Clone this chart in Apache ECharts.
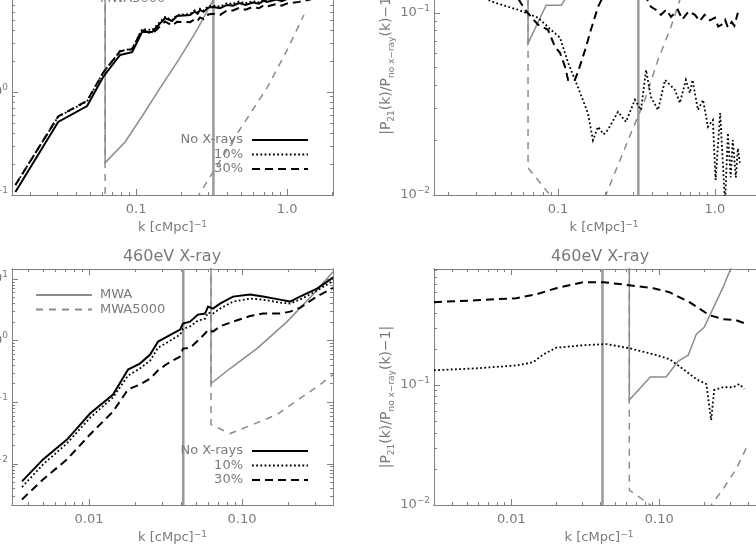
<!DOCTYPE html>
<html>
<head>
<meta charset="utf-8">
<script src="https://cdn.jsdelivr.net/npm/echarts@6/dist/echarts.min.js"></script>
<style>
  html, body { margin: 0; padding: 0; background: #fff; }
  #chart { width: 756px; height: 545px; }
</style>
</head>
<body>
<div id="chart"></div>
<script>
// ---------------- DATA ----------------
// Top-left: 21cm power spectra
const tlK    = [0.0159, 0.0305, 0.0474, 0.0605, 0.0784, 0.0941, 0.1096, 0.1276, 0.1556, 0.173, 0.1868, 0.2275, 0.245, 0.255, 0.265, 0.28, 0.30, 0.323, 0.36, 0.40, 0.438, 0.48, 0.53, 0.593, 0.65, 0.70, 0.734, 0.85, 0.92, 1.0, 1.2, 1.44];
const tlNoX  = [0.107, 0.512, 0.731, 1.40, 2.29, 2.44, 3.83, 3.83, 5.22, 4.89, 5.47, 5.60, 6.05, 5.75, 6.26, 6.0, 6.6, 6.69, 6.5, 7.0, 6.9, 7.3, 7.0, 7.4, 7.2, 7.7, 7.5, 7.9, 7.6, 8.0, 8.3, 8.8];
const tl10   = [0.125, 0.576, 0.811, 1.54, 2.50, 2.63, 4.07, 4.0, 5.37, 5.0, 5.6, 5.73, 6.22, 5.91, 6.44, 6.17, 6.78, 6.88, 6.76, 7.28, 7.18, 7.59, 7.28, 7.62, 7.42, 7.93, 7.73, 8.14, 7.83, 8.12, 8.42, 8.93];
const tl30   = [0.125, 0.579, 0.822, 1.54, 2.49, 2.60, 4.02, 3.67, 4.84, 4.41, 4.8, 4.76, 5.1, 4.9, 5.3, 5.1, 5.65, 5.75, 5.6, 6.2, 6.2, 6.55, 6.3, 6.7, 6.5, 6.95, 6.75, 7.15, 6.9, 7.25, 7.5, 7.95];
const tlMwaK  = [0.0624, 0.0624, 0.0846, 0.111, 0.144, 0.195, 0.253, 0.323, 0.46];
const tlMwa   = [1e4, 0.205, 0.327, 0.598, 1.09, 2.14, 4.0, 7.8, 21];
const tlMwa5K = [0.0624, 0.0624, 0.083, 0.12, 0.26, 0.438, 0.734, 1.0, 1.29];
const tlMwa5  = [1e4, 0.044, 0.031, 0.044, 0.1, 0.342, 1.09, 2.56, 5.6];

// Top-right: fractional difference
const trK10 = [0.0159, 0.0305, 0.0397, 0.0556, 0.0746, 0.0902, 0.103, 0.116, 0.134, 0.155, 0.167, 0.18, 0.195, 0.208, 0.241, 0.271, 0.309, 0.338, 0.364, 0.391, 0.434, 0.481, 0.556, 0.598, 0.653, 0.693, 0.72, 0.78, 0.84, 0.902, 0.97, 1.01, 1.08, 1.16, 1.21, 1.26, 1.30, 1.36, 1.40, 1.44];
const tr10  = [0.17, 0.125, 0.1135, 0.104, 0.094, 0.0807, 0.073, 0.0531, 0.039, 0.0282, 0.020, 0.0237, 0.0215, 0.0228, 0.0286, 0.0252, 0.0333, 0.0293, 0.0486, 0.0345, 0.0293, 0.0428, 0.0378, 0.032, 0.0428, 0.0363, 0.0428, 0.0293, 0.0333, 0.0237, 0.0258, 0.0121, 0.0282, 0.009, 0.0219, 0.0125, 0.020, 0.0125, 0.018, 0.015];
const trK30 = [0.0159, 0.0305, 0.0474, 0.0556, 0.0616, 0.0746, 0.0863, 0.0957, 0.103, 0.111, 0.116, 0.128, 0.134, 0.149, 0.162, 0.18, 0.2, 0.25, 0.3, 0.35, 0.391, 0.42, 0.453, 0.49, 0.525, 0.58, 0.62, 0.68, 0.746, 0.8, 0.86, 0.93, 1.0, 1.05, 1.1, 1.16, 1.21, 1.28, 1.33, 1.40];
const tr30  = [0.17, 0.135, 0.128, 0.12, 0.104, 0.086, 0.0807, 0.065, 0.0603, 0.0504, 0.0428, 0.0428, 0.0474, 0.0627, 0.0807, 0.108, 0.13, 0.15, 0.15, 0.13, 0.108, 0.104, 0.0975, 0.104, 0.095, 0.104, 0.092, 0.102, 0.0975, 0.09, 0.0975, 0.091, 0.094, 0.084, 0.086, 0.0917, 0.083, 0.089, 0.085, 0.1];
const trMwaK  = [0.0644, 0.0644, 0.084, 0.105, 0.115, 0.14, 0.2];
const trMwa   = [1e4, 0.068, 0.11, 0.11, 0.125, 0.2, 0.45];
const trMwa5K = [0.0644, 0.0644, 0.089, 0.13, 0.202, 0.218, 0.292, 0.358, 0.434, 0.525, 0.598, 0.75, 1.0, 1.29];
const trMwa5  = [1e4, 0.0141, 0.01, 0.006, 0.01, 0.0118, 0.0219, 0.0333, 0.0552, 0.0838, 0.118, 0.2, 0.4, 0.8];

// Bottom-left: 460eV X-ray power spectra
const blK   = [0.00365, 0.00501, 0.00718, 0.01016, 0.01436, 0.018, 0.0215, 0.0251, 0.0283, 0.0324, 0.0394, 0.0411, 0.0457, 0.0515, 0.0573, 0.060, 0.0646, 0.0718, 0.0873, 0.1127, 0.137, 0.177, 0.206, 0.239, 0.309, 0.376, 0.393];
const blNoX = [0.00519, 0.0118, 0.0248, 0.0656, 0.133, 0.339, 0.424, 0.593, 0.964, 1.16, 1.51, 1.89, 2.03, 2.64, 2.74, 3.56, 3.30, 3.98, 5.17, 5.57, 5.17, 4.62, 4.29, 5.17, 6.96, 9.74, 10.6];
const bl10  = [0.0042, 0.0098, 0.0215, 0.056, 0.12, 0.271, 0.352, 0.474, 0.77, 0.93, 1.25, 1.55, 1.69, 2.11, 2.27, 2.84, 2.74, 3.3, 4.29, 4.8, 4.62, 4.13, 3.98, 4.62, 6.46, 8.7, 9.6];
const bl30  = [0.00265, 0.00559, 0.0118, 0.030, 0.0706, 0.161, 0.194, 0.242, 0.33, 0.42, 0.551, 0.741, 0.76, 1.0, 1.3, 1.51, 1.40, 1.7, 2.03, 2.5, 2.74, 2.74, 2.95, 3.4, 5.2, 6.7, 7.2];
const blMwaK  = [0.0627, 0.0627, 0.0835, 0.125, 0.197, 0.291, 0.393];
const blMwa   = [1e4, 0.201, 0.352, 0.742, 2.03, 5.57, 13.1];
const blMwa5K = [0.0627, 0.0627, 0.0835, 0.118, 0.169, 0.239, 0.324, 0.393];
const blMwa5  = [1e4, 0.0435, 0.031, 0.0436, 0.063, 0.115, 0.194, 0.281];

// Bottom-right: fractional difference, 460eV X-ray
const brK10 = [0.0030, 0.0058, 0.0108, 0.014, 0.0164, 0.0201, 0.0306, 0.0438, 0.0627, 0.091, 0.117, 0.145, 0.178, 0.208, 0.224, 0.235, 0.27, 0.316, 0.347, 0.375];
const br10  = [0.133, 0.138, 0.146, 0.155, 0.18, 0.205, 0.215, 0.22, 0.203, 0.181, 0.165, 0.136, 0.112, 0.102, 0.051, 0.091, 0.096, 0.096, 0.102, 0.093];
const brK30 = [0.0030, 0.0058, 0.0108, 0.0148, 0.0201, 0.0306, 0.0418, 0.0627, 0.091, 0.117, 0.16, 0.218, 0.27, 0.331, 0.375];
const br30  = [0.492, 0.51, 0.531, 0.573, 0.643, 0.722, 0.722, 0.681, 0.643, 0.596, 0.492, 0.383, 0.355, 0.348, 0.329];
const brMwaK  = [0.0627, 0.0627, 0.0869, 0.111, 0.134, 0.157, 0.178, 0.201, 0.27, 0.297, 0.35, 0.393];
const brMwa   = [1e4, 0.075, 0.117, 0.117, 0.158, 0.178, 0.266, 0.304, 0.656, 0.875, 1.5, 2.2];
const brMwa5K = [0.0627, 0.0627, 0.087, 0.13, 0.224, 0.27, 0.331, 0.393];
const brMwa5  = [1e4, 0.0133, 0.01, 0.006, 0.01, 0.0136, 0.02, 0.031];

// vertical marker lines
const topMarkerK = 0.325;
const bottomMarkerK = 0.0413;

// axis ranges
const xRanges = [[0.0151, 2.01], [0.0162, 2.38], [0.00314, 0.393], [0.0030, 0.51]];
const yRanges = [[0.1, 20], [0.01, 0.2], [0.00215, 14.5], [0.01, 0.93]];

// tick labels
const topXTickLabels = { '-1': '0.1', '0': '1.0' };
const bottomXTickLabels = { '-2': '0.01', '-1': '0.10' };

const legendBlack = ['No X-rays', '10%', '30%'];
const legendGrey = ['MWA', 'MWA5000'];
const titleText = '460eV X-ray';
const ratioName = '|P{s|21}(k)/P{s|no x\u2212ray}(k)\u22121|';
const kName = 'k [cMpc]{u|\u22121}';

// ---------------- STYLE ----------------
const FONT = 'DejaVu Sans';
const TXT = '#7a7a7a';
const BOX = '#808080';
const GREY = '#8c8c8c';

const styles = {
  solid:  { color: '#000', width: 2, type: 'solid' },
  dotted: { color: '#000', width: 1.8, type: [1.8, 2.4] },
  dashed: { color: '#000', width: 2, type: [8, 5] },
  gsolid: { color: GREY, width: 1.5, type: 'solid' },
  gdash:  { color: GREY, width: 1.5, type: [7, 6] },
  marker: { color: '#9a9a9a', width: 2.5, type: 'solid' }
};

function pairs(ks, vs) { return ks.map((k, i) => [k, vs[i]]); }
function isPow10(v) {
  const l = Math.log10(v);
  return Math.abs(l - Math.round(l)) < 1e-6;
}
function expLabel(v) {
  if (!isPow10(v)) return '';
  const e = Math.round(Math.log10(v));
  return '{b|10}{s|' + (e < 0 ? '\u2212' + (-e) : e) + '}';
}
// tick positions m x 10^n within [min, max] (inclusive); major = powers of ten
function logTicks(min, max, major) {
  const out = [];
  for (let e = Math.floor(Math.log10(min)) - 1; e <= Math.ceil(Math.log10(max)); e++) {
    for (let m = 1; m <= 9; m++) {
      if ((m === 1) !== major) continue;
      const v = m * Math.pow(10, e);
      if (v >= min * 0.9999 && v <= max * 1.0001) out.push(v);
    }
  }
  return out;
}

const grids = [
  { left: 12,  top: -42, width: 321, height: 237 },
  { left: 434, top: -42, width: 340, height: 237 },
  { left: 12,  top: 269, width: 321, height: 236 },
  { left: 434, top: 269, width: 330, height: 236 }
].map(g => Object.assign(g, { show: false, containLabel: false, outerBoundsMode: 'none' }));

const MAJ = 6, MIN = 3;
const axisLineStyle = { show: true, onZero: false, lineStyle: { color: BOX, width: 1 } };
function tickOnlyAxis(base, position, values, len) {
  return Object.assign({}, base, {
    position: position, axisLine: axisLineStyle, splitLine: { show: false },
    axisLabel: { show: false }, name: '', minorTick: { show: false },
    axisTick: { show: true, inside: true, length: len, customValues: values, lineStyle: { color: BOX, width: 1 } }
  });
}

// 4 x axes and 4 y axes per grid: main (labels, major ticks), minor ticks, opposite major, opposite minor
const xAxes = [], yAxes = [];
for (let i = 0; i < 4; i++) {
  const xb = { type: 'log', gridIndex: i, min: xRanges[i][0], max: xRanges[i][1], logBase: 10 };
  const xMaj = logTicks(xRanges[i][0], xRanges[i][1], true);
  const xMin = logTicks(xRanges[i][0], xRanges[i][1], false);
  xAxes.push(Object.assign({}, xb, {
    position: 'bottom',
    axisLine: axisLineStyle, splitLine: { show: false }, minorTick: { show: false },
    axisTick: { show: true, inside: true, length: MAJ, customValues: xMaj, lineStyle: { color: BOX, width: 1 } },
    axisLabel: {
      color: TXT, fontFamily: FONT, fontSize: 13, margin: 8, customValues: xMaj,
      formatter: v => {
        if (!isPow10(v)) return '';
        const e = String(Math.round(Math.log10(v)));
        const map = i < 2 ? topXTickLabels : bottomXTickLabels;
        return map[e] || '';
      }
    },
    name: kName, nameLocation: 'middle', nameGap: 25,
    nameTextStyle: { color: TXT, fontFamily: FONT, fontSize: 13, lineHeight: 16,
      rich: { u: { fontSize: 9, lineHeight: 8, verticalAlign: 'top', color: TXT, fontFamily: FONT } } }
  }));
  xAxes.push(tickOnlyAxis(xb, 'bottom', xMin, MIN));
  xAxes.push(tickOnlyAxis(xb, 'top', xMaj, MAJ));
  xAxes.push(tickOnlyAxis(xb, 'top', xMin, MIN));

  const yb = { type: 'log', gridIndex: i, min: yRanges[i][0], max: yRanges[i][1], logBase: 10 };
  const yMaj = logTicks(yRanges[i][0], yRanges[i][1], true);
  const yMin = logTicks(yRanges[i][0], yRanges[i][1], false);
  const ya = Object.assign({}, yb, {
    position: 'left',
    axisLine: axisLineStyle, splitLine: { show: false }, minorTick: { show: false },
    axisTick: { show: true, inside: true, length: MAJ, customValues: yMaj, lineStyle: { color: BOX, width: 1 } },
    axisLabel: {
      color: TXT, fontFamily: FONT, fontSize: 13, margin: 4, formatter: expLabel, customValues: yMaj,
      rich: {
        b: { fontSize: 13, lineHeight: 18, color: TXT, fontFamily: FONT },
        s: { fontSize: 9, lineHeight: 9, verticalAlign: 'top', color: TXT, fontFamily: FONT }
      }
    }
  });
  if (i === 1 || i === 3) {
    Object.assign(ya, {
      name: ratioName, nameLocation: 'middle', nameGap: 38, nameRotate: 90,
      nameTextStyle: { color: TXT, fontFamily: FONT, fontSize: 14, lineHeight: 20,
        padding: i === 1 ? [0, 0, 0, 26] : [0, 20, 0, 0],
        rich: { s: { fontSize: 9, lineHeight: 9, verticalAlign: 'bottom', color: TXT, fontFamily: FONT } } }
    });
  }
  yAxes.push(ya);
  yAxes.push(tickOnlyAxis(yb, 'left', yMin, MIN));
  yAxes.push(tickOnlyAxis(yb, 'right', yMaj, MAJ));
  yAxes.push(tickOnlyAxis(yb, 'right', yMin, MIN));
}

function lineSeries(name, data, st, g) {
  return {
    type: 'line', name: name, data: data, xAxisIndex: 4 * g, yAxisIndex: 4 * g,
    symbol: 'none', showSymbol: false, smooth: false, clip: true, silent: true,
    animation: false, emphasis: { disabled: true },
    lineStyle: { color: st.color, width: st.width, type: st.type, cap: 'butt', join: 'miter' },
    itemStyle: { color: st.color }
  };
}

const series = [];
// markers
series.push(lineSeries('kmark0', [[topMarkerK, yRanges[0][0]], [topMarkerK, yRanges[0][1]]], styles.marker, 0));
series.push(lineSeries('kmark1', [[topMarkerK, yRanges[1][0]], [topMarkerK, yRanges[1][1]]], styles.marker, 1));
series.push(lineSeries('kmark2', [[bottomMarkerK, yRanges[2][0]], [bottomMarkerK, yRanges[2][1]]], styles.marker, 2));
series.push(lineSeries('kmark3', [[bottomMarkerK, yRanges[3][0]], [bottomMarkerK, yRanges[3][1]]], styles.marker, 3));

// grey sensitivity curves
series.push(lineSeries('MWA', pairs(tlMwaK, tlMwa), styles.gsolid, 0));
series.push(lineSeries('MWA5000', pairs(tlMwa5K, tlMwa5), styles.gdash, 0));
series.push(lineSeries('MWA', pairs(trMwaK, trMwa), styles.gsolid, 1));
series.push(lineSeries('MWA5000', pairs(trMwa5K, trMwa5), styles.gdash, 1));
series.push(lineSeries('MWA', pairs(blMwaK, blMwa), styles.gsolid, 2));
series.push(lineSeries('MWA5000', pairs(blMwa5K, blMwa5), styles.gdash, 2));
series.push(lineSeries('MWA', pairs(brMwaK, brMwa), styles.gsolid, 3));
series.push(lineSeries('MWA5000', pairs(brMwa5K, brMwa5), styles.gdash, 3));

// black curves
series.push(lineSeries('No X-rays', pairs(tlK, tlNoX), styles.solid, 0));
series.push(lineSeries('10%', pairs(tlK, tl10), styles.dotted, 0));
series.push(lineSeries('30%', pairs(tlK, tl30), styles.dashed, 0));
series.push(lineSeries('10%', pairs(trK10, tr10), styles.dotted, 1));
series.push(lineSeries('30%', pairs(trK30, tr30), styles.dashed, 1));
series.push(lineSeries('No X-rays', pairs(blK, blNoX), styles.solid, 2));
series.push(lineSeries('10%', pairs(blK, bl10), styles.dotted, 2));
series.push(lineSeries('30%', pairs(blK, bl30), styles.dashed, 2));
series.push(lineSeries('10%', pairs(brK10, br10), styles.dotted, 3));
series.push(lineSeries('30%', pairs(brK30, br30), styles.dashed, 3));

const legends = [
  { data: legendBlack, orient: 'vertical', right: 447, top: 133.5, align: 'right', pad: [0, 4, 0, 0] },
  { data: legendGrey, orient: 'vertical', left: 35, top: -22.5, align: 'left', pad: [0, 0, 0, 3] },
  { data: legendGrey, orient: 'vertical', left: 35, top: 288.5, align: 'left', pad: [0, 0, 0, 3] },
  { data: legendBlack, orient: 'vertical', right: 447, top: 444.5, align: 'right', pad: [0, 4, 0, 0] }
].map(l => {
  const o = Object.assign({}, l, {
    itemWidth: 56, itemHeight: 10, itemGap: 1.5, padding: 0, selectedMode: false,
    itemStyle: { opacity: 0, borderWidth: 0 },
    textStyle: { color: TXT, fontFamily: FONT, fontSize: 13, lineHeight: 13, padding: l.pad }
  });
  delete o.pad;
  return o;
});

const titles = [
  { text: titleText, left: 172, top: 249 },
  { text: titleText, left: 600, top: 249 }
].map(t => Object.assign(t, { textAlign: 'center', padding: 0,
  textStyle: { color: TXT, fontFamily: FONT, fontSize: 16, fontWeight: 'normal' } }));

const chart = echarts.init(document.getElementById('chart'), null, { renderer: 'canvas' });
chart.setOption({
  animation: false,
  backgroundColor: '#ffffff',
  textStyle: { fontFamily: FONT },
  title: titles,
  legend: legends,
  grid: grids,
  xAxis: xAxes,
  yAxis: yAxes,
  series: series
});
</script>
</body>
</html>
